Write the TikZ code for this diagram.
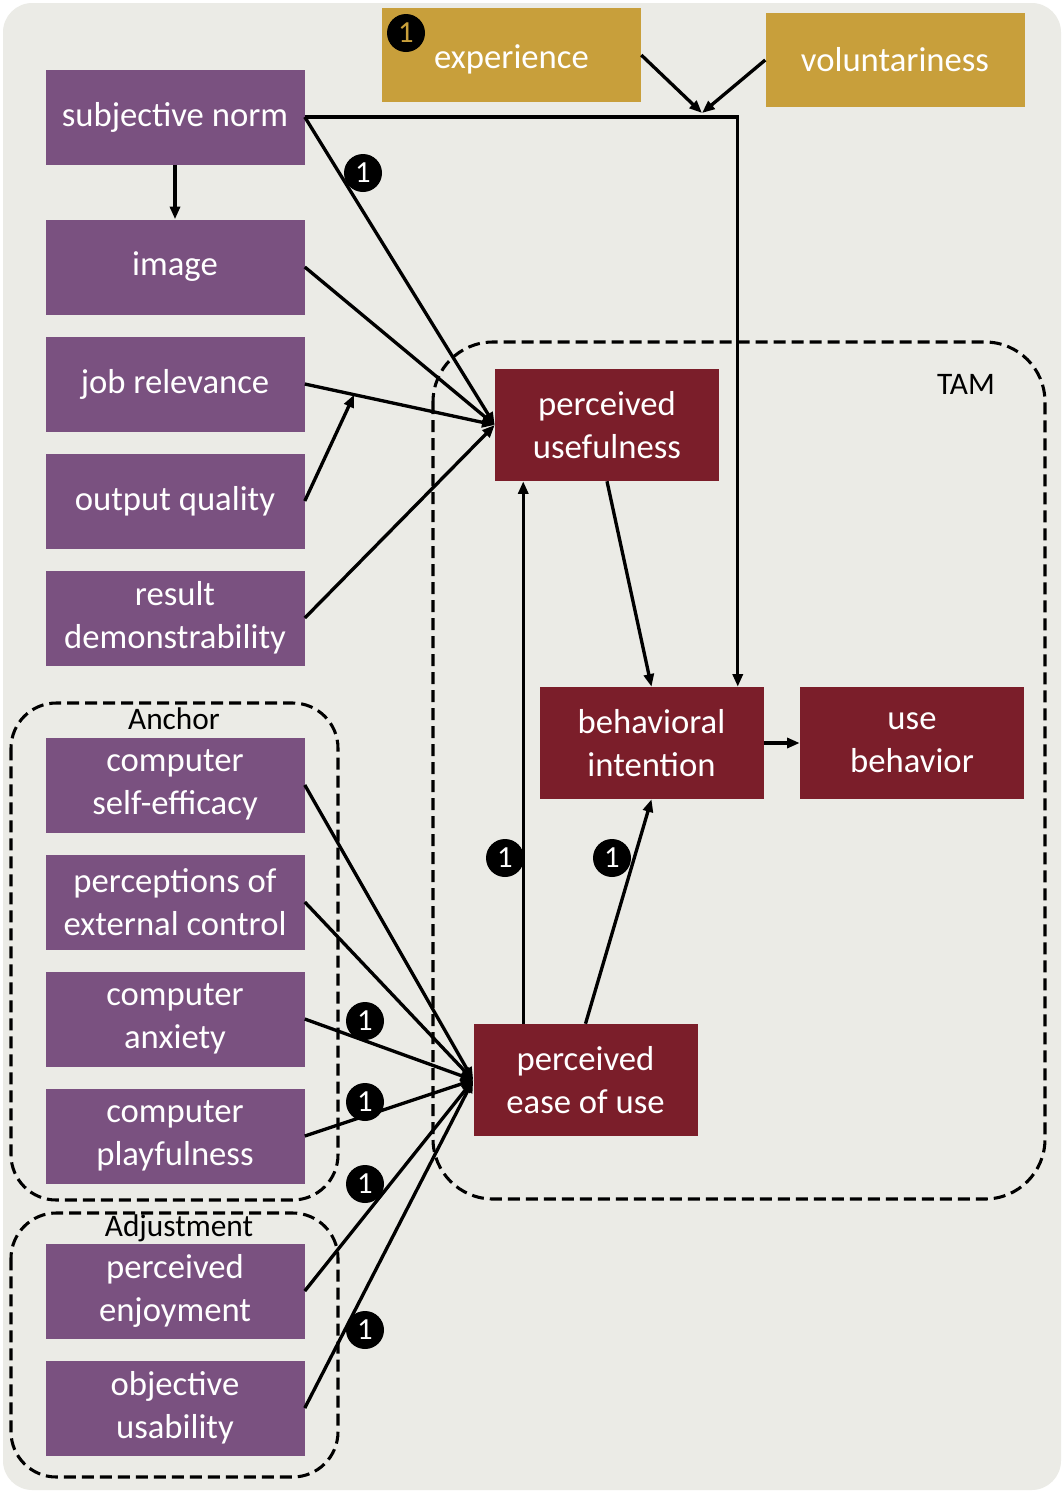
\documentclass[tikz,border=0pt]{standalone}
\usepackage{fontspec}
\setmainfont{Carlito}
\usetikzlibrary{arrows.meta,calc}
\definecolor{panel}{HTML}{EBEBE6}
\definecolor{purp}{HTML}{7A5180}
\definecolor{wine}{HTML}{7B1E2A}
\definecolor{ochre}{HTML}{C89F3B}
\begin{document}
\begin{tikzpicture}[x=0.75pt,y=-0.75pt,
  box/.style={inner sep=0pt, text=white, align=center, font=\fontsize{26}{32}\selectfont},
  purplebox/.style={box, fill=purp, minimum width=194.25pt, minimum height=71.25pt},
  redbox/.style={box, fill=wine, minimum width=168pt, minimum height=84pt},
  goldbox/.style={box, fill=ochre, minimum width=194.25pt, minimum height=70.5pt},
  link/.style={line width=2.5pt, -{Triangle[length=9.5pt,width=7.5pt]}},
  badge/.style={circle, fill=black, inner sep=0pt, minimum size=28.5pt, text=white,
    font=\fontsize{23}{23}\selectfont},
  group/.style={draw, line width=2.3pt, dash pattern=on 9pt off 4.5pt},
  grouplabel/.style={inner sep=0pt, font=\fontsize{23.5}{28}\selectfont}
]
\useasboundingbox (0,0) rectangle (1061,1493);
\fill[white] (0,0) rectangle (1061,1493);
\fill[panel, rounded corners=22pt] (3,3) rectangle (1061,1490);

% dashed groupings
\draw[group, rounded corners=45pt] (433,342) rectangle (1045,1199);
\node[grouplabel] (tamlabel) at (966,384) {TAM};
\draw[group, rounded corners=34pt] (11,703) rectangle (338,1200);
\node[grouplabel] (anchorlabel) at (174,719) {Anchor};
\draw[group, rounded corners=34pt] (11,1213) rectangle (338,1477);
\node[grouplabel] (adjlabel) at (179,1228) {Adjustment};

% determinants
\node[purplebox] (sn)   at (175,117)  {subjective norm};
\node[purplebox] (img)  at (175,267)  {image};
\node[purplebox] (jr)   at (175,384)  {job relevance};
\node[purplebox] (oq)   at (175,501)  {output quality};
\node[purplebox] (rd)   at (175,618)  {result\\demonstrability};
\node[purplebox] (cse)  at (175,785)  {computer\\self-efficacy};
\node[purplebox] (pec)  at (175,902)  {perceptions of\\external control};
\node[purplebox] (anx)  at (175,1019) {computer\\anxiety};
\node[purplebox] (play) at (175,1136) {computer\\playfulness};
\node[purplebox] (enj)  at (175,1291) {perceived\\enjoyment};
\node[purplebox] (ou)   at (175,1408) {objective\\usability};

% moderators
\node[goldbox, label={[box, yshift=-3pt]center:experience}] (exp) at (511.5,55) {};
\node[goldbox] (vol) at (895,60) {voluntariness};

% TAM core
\node[redbox] (pu)   at (607,425)  {perceived\\usefulness};
\node[redbox] (bi)   at (651.5,743) {behavioral\\intention};
\node[redbox] (ub)   at (912,743)  {use\\behavior};
\node[redbox] (peou) at (585.5,1080) {perceived\\ease of use};

% helper points
\coordinate (sndrop) at ($(bi.north east)+(-26,0)$);
\coordinate (mod) at (702,113);
\coordinate (jrmod) at ($(jr.east)!0.26!(pu.west)$);
\coordinate (peouup) at ($(peou.north west)+(50,0)$);

% connectors
\draw[link] (sn.east) -| (sndrop);
\draw[link] (exp.east) -- (mod);
\draw[link] (vol.west) -- (mod);
\draw[link] (sn.south) -- (img.north);
\foreach \s in {sn,img,jr,rd} \draw[link] (\s.east) -- (pu.west);
\draw[link] (oq.east) -- (jrmod);
\draw[link] (pu.south) -- (bi.north);
\draw[link] (bi.east) -- (ub.west);
\draw[link] (peouup) -- (peouup |- pu.south);
\draw[link] (peou.north) -- (bi.south);
\foreach \s in {cse,pec,anx,play,enj,ou} \draw[link] (\s.east) -- (peou.west);

% markers
\node[badge] (b1) at (363,173) {1};
\node[badge] (b2) at (505,858) {1};
\node[badge] (b3) at (612,858) {1};
\node[badge] (b4) at (365,1021) {1};
\node[badge] (b5) at (365,1102) {1};
\node[badge] (b6) at (365,1184) {1};
\node[badge] (b7) at (365,1330) {1};
\node[badge, text=ochre] (b8) at (406,33) {1};
\end{tikzpicture}
\end{document}
